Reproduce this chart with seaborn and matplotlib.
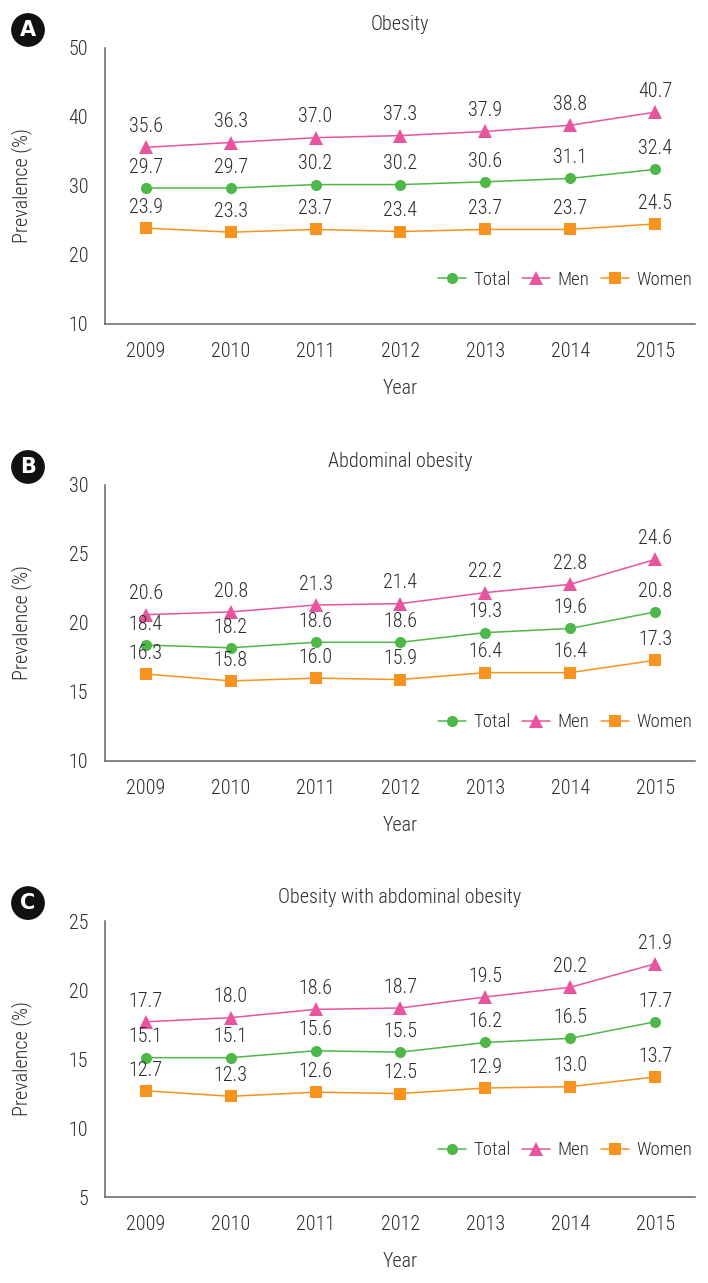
import numpy as np
import pandas as pd
import matplotlib
matplotlib.use("Agg")
import matplotlib.pyplot as plt
import matplotlib.font_manager as fm
import seaborn as sns

years = [2009, 2010, 2011, 2012, 2013, 2014, 2015]

obesity_total = [29.7, 29.7, 30.2, 30.2, 30.6, 31.1, 32.4]
obesity_men = [35.6, 36.3, 37.0, 37.3, 37.9, 38.8, 40.7]
obesity_women = [23.9, 23.3, 23.7, 23.4, 23.7, 23.7, 24.5]

abdominal_total = [18.4, 18.2, 18.6, 18.6, 19.3, 19.6, 20.8]
abdominal_men = [20.6, 20.8, 21.3, 21.4, 22.2, 22.8, 24.6]
abdominal_women = [16.3, 15.8, 16.0, 15.9, 16.4, 16.4, 17.3]

both_total = [15.1, 15.1, 15.6, 15.5, 16.2, 16.5, 17.7]
both_men = [17.7, 18.0, 18.6, 18.7, 19.5, 20.2, 21.9]
both_women = [12.7, 12.3, 12.6, 12.5, 12.9, 13.0, 13.7]

panel_letters = ["A", "B", "C"]
panel_titles = ["Obesity", "Abdominal obesity", "Obesity with abdominal obesity"]
panel_yticks = [[10, 20, 30, 40, 50], [10, 15, 20, 25, 30], [5, 10, 15, 20, 25]]
panel_series = [
    {"Total": obesity_total, "Men": obesity_men, "Women": obesity_women},
    {"Total": abdominal_total, "Men": abdominal_men, "Women": abdominal_women},
    {"Total": both_total, "Men": both_men, "Women": both_women},
]

groups = ["Total", "Men", "Women"]
colors = {"Total": "#4db848", "Men": "#e8559e", "Women": "#f7931e"}
markers = {"Total": "o", "Men": "^", "Women": "s"}
msizes = {"Total": 8, "Men": 10, "Women": 8.5}

sns.set_style("white")
# narrow light face, as in the original figure
installed = {f.name for f in fm.fontManager.ttflist}
narrow = [n for n in ["Roboto Condensed", "Barlow Semi Condensed", "Encode Sans Condensed",
                      "Roboto"] if n in installed]
plt.rcParams["font.family"] = narrow[:1] + ["DejaVu Sans"]
plt.rcParams["font.weight"] = 300
plt.rcParams["axes.labelweight"] = 300
plt.rcParams["axes.titleweight"] = 300
plt.rcParams["text.color"] = "#2b2b2b"
plt.rcParams["axes.labelcolor"] = "#2b2b2b"
plt.rcParams["xtick.color"] = "#2b2b2b"
plt.rcParams["ytick.color"] = "#2b2b2b"

axis_gray = "#666666"
fig = plt.figure(figsize=(7.08, 12.83), dpi=100)
bottoms = [0.7475, 0.4069, 0.0670]
legend_y = [0.16, 0.14, 0.17]

for i in range(3):
    ax = fig.add_axes([0.1483, bottoms[i], 0.8333, 0.2151])
    rows = []
    for g in groups:
        for y, v in zip(years, panel_series[i][g]):
            rows.append({"Year": y, "Prevalence": v, "Group": g})
    df = pd.DataFrame(rows)

    for g in groups:
        sub = df[df["Group"] == g]
        sns.lineplot(data=sub, x="Year", y="Prevalence", ax=ax, color=colors[g],
                     marker=markers[g], markersize=msizes[g], markeredgewidth=0,
                     linewidth=1.1, label=g)
        for x, v in zip(sub["Year"], sub["Prevalence"]):
            ax.annotate(f"{v:.1f}", (x, v), xytext=(0, 11), textcoords="offset points",
                        ha="center", va="baseline", fontsize=14.5)

    yt = panel_yticks[i]
    ax.set_ylim(yt[0], yt[-1])
    ax.set_yticks(yt)
    ax.set_xlim(2008.52, 2015.47)
    ax.set_xticks(years)
    ax.set_xticklabels([str(y) for y in years])
    ax.tick_params(axis="both", direction="in", length=6, width=1.1, color=axis_gray,
                   labelsize=14.5)
    ax.tick_params(axis="y", pad=12)
    ax.tick_params(axis="x", pad=13)
    for s in ["top", "right"]:
        ax.spines[s].set_visible(False)
    for s in ["left", "bottom"]:
        ax.spines[s].set_color(axis_gray)
        ax.spines[s].set_linewidth(1.1)

    ax.set_xlabel("Year", fontsize=14.5, labelpad=13)
    ax.set_ylabel("Prevalence (%)", fontsize=14.5)
    ax.yaxis.set_label_coords(-0.124, 0.5)
    ax.set_title(panel_titles[i], fontsize=14.5, pad=13)

    ax.legend(loc="center right", bbox_to_anchor=(0.995, legend_y[i]), ncol=3,
              frameon=False, fontsize=13.5, handlelength=1.5, handletextpad=0.4,
              columnspacing=0.6, borderaxespad=0, borderpad=0)

    top_px = 1283 * (1 - (bottoms[i] + 0.2151))
    fig.text(28 / 708, 1 - (top_px - 18) / 1283, panel_letters[i], ha="center", va="center",
             color="white", fontsize=15, fontweight="bold", family="DejaVu Sans",
             bbox=dict(boxstyle="circle,pad=0.33", fc="#111111", ec="none"))

fig.savefig("out.png", dpi=100)
